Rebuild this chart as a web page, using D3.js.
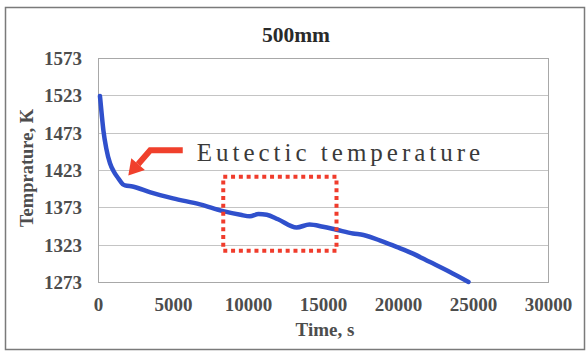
<!DOCTYPE html>
<html><head><meta charset="utf-8">
<script src="https://cdn.jsdelivr.net/npm/d3@7"></script>
<style>body{margin:0;background:#fff}svg{display:block}</style>
</head><body>
<svg id="c" width="587" height="352"></svg>
<script>
const title = "500mm";
const xLabel = "Time, s";
const yLabel = "Temprature, K";
const xTicks = [0, 5000, 10000, 15000, 20000, 25000, 30000];
const yTicks = [1273, 1323, 1373, 1423, 1473, 1523, 1573];
const timeS = [130, 250, 360, 550, 800, 1050, 1350, 1650, 1800, 2300, 3500, 5000, 6800, 8350, 9500, 10130, 10700, 11250, 12000, 13240, 14100, 15000, 15900, 17000, 17700, 19000, 19900, 21000, 22100, 23400, 24700];
const tempK = [1522, 1497, 1476, 1452, 1432, 1421, 1412, 1404, 1402.5, 1401, 1393, 1385, 1377, 1368, 1363, 1361, 1364, 1363, 1357, 1346, 1350, 1347, 1343, 1338, 1336, 1327, 1320, 1311, 1300, 1287, 1273];
const annotText = "Eutectic temperature";
const boxTime = [8350, 15900];
const boxTemp = [1315, 1414];

const svg = d3.select("#c");
const x = d3.scaleLinear().domain([0, 30000]).range([98, 548]);
const y = d3.scaleLinear().domain([1273, 1573]).range([282, 58]);
const font = "'Liberation Serif','Times New Roman',serif";

svg.append("rect").attr("x", 5.5).attr("y", 7.5).attr("width", 579).attr("height", 342)
  .attr("fill", "#fff").attr("stroke", "#7a7a7a").attr("stroke-width", 1.5);

// gridlines
svg.append("g").selectAll("line").data(yTicks).join("line")
  .attr("x1", x(0)).attr("x2", x(30000))
  .attr("y1", d => Math.round(y(d)) + 0.5).attr("y2", d => Math.round(y(d)) + 0.5)
  .attr("stroke", "#c4c4c4").attr("stroke-width", 1);
svg.append("rect").attr("x", x(0) + 0.5).attr("y", y(1573) + 0.5)
  .attr("width", x(30000) - x(0)).attr("height", y(1273) - y(1573))
  .attr("fill", "none").attr("stroke", "#a8a8a8").attr("stroke-width", 1);

// axes
const yAxis = d3.axisLeft(y).tickValues(yTicks).tickSize(0).tickPadding(16).tickFormat(d3.format("d"));
const gy = svg.append("g").attr("transform", `translate(${x(0)},0)`).call(yAxis);
const xAxis = d3.axisBottom(x).tickValues(xTicks).tickSize(0).tickPadding(16).tickFormat(d3.format("d"));
const gx = svg.append("g").attr("transform", `translate(0,${y(1273)})`).call(xAxis);
[gx, gy].forEach(g => {
  g.select(".domain").remove();
  g.selectAll("text").attr("font-family", font).attr("font-weight", "bold")
    .attr("font-size", 19).attr("fill", "#4d4d4d");
});
gy.selectAll("text").attr("dy", "0.34em");

// line
const line = d3.line().x((d, i) => x(timeS[i])).y(d => y(d)).curve(d3.curveMonotoneX);
svg.append("path").datum(tempK).attr("d", line).attr("fill", "none")
  .attr("stroke", "#3050cc").attr("stroke-width", 4.5).attr("stroke-linejoin", "round").attr("stroke-linecap", "round");

// red dotted box
svg.append("rect").attr("x", x(boxTime[0])).attr("y", y(boxTemp[1]))
  .attr("width", x(boxTime[1]) - x(boxTime[0])).attr("height", y(boxTemp[0]) - y(boxTemp[1]))
  .attr("fill", "none").attr("stroke", "#f03c2c").attr("stroke-width", 4).attr("stroke-dasharray", "4,3.8");

// arrow
const tip = [x(2020), y(1415.5)];
const bend = [x(3480), y(1449.5)];
const barEnd = [x(5650), y(1449.5)];
const dx = tip[0] - bend[0], dy = tip[1] - bend[1];
const len = Math.hypot(dx, dy), ux = dx / len, uy = dy / len;
const hl = 15, hw = 9;
const base = [tip[0] - ux * hl, tip[1] - uy * hl];
svg.append("path").attr("d", `M${barEnd[0]},${barEnd[1]}L${bend[0]},${bend[1]}L${base[0]},${base[1]}`)
  .attr("fill", "none").attr("stroke", "#f0402c").attr("stroke-width", 6).attr("stroke-linejoin", "miter");
svg.append("path").attr("d", `M${tip[0]},${tip[1]}L${base[0] + uy * hw},${base[1] - ux * hw}L${base[0] - uy * hw},${base[1] + ux * hw}Z`)
  .attr("fill", "#f0402c");

svg.append("text").attr("x", x(6580)).attr("y", y(1435)).text(annotText)
  .attr("font-family", font).attr("font-size", 25).attr("letter-spacing", 4).attr("fill", "#3a3a3a");

// titles
svg.append("text").attr("x", 296).attr("y", 42).attr("text-anchor", "middle").text(title)
  .attr("font-family", font).attr("font-weight", "bold").attr("font-size", 21.5).attr("fill", "#2a2a2a");
svg.append("text").attr("x", 325).attr("y", 336).attr("text-anchor", "middle").text(xLabel)
  .attr("font-family", font).attr("font-weight", "bold").attr("font-size", 19).attr("fill", "#4d4d4d");
svg.append("text").attr("transform", "translate(33,168) rotate(-90)").attr("text-anchor", "middle").text(yLabel)
  .attr("font-family", font).attr("font-weight", "bold").attr("font-size", 18.5).attr("fill", "#4d4d4d");
</script>
</body></html>
